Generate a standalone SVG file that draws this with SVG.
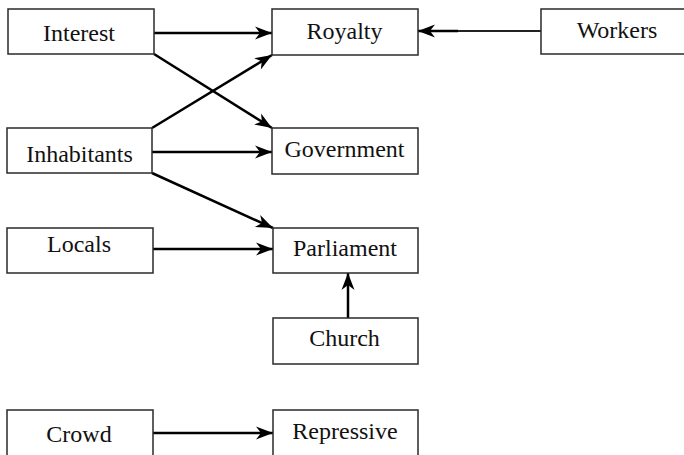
<svg xmlns="http://www.w3.org/2000/svg" width="684" height="455" viewBox="0 0 684 455">
  <style>
    .box { fill: #ffffff; stroke: #2a2a2a; stroke-width: 1.5; }
    .lbl { font-family: "Liberation Serif", "Times New Roman", serif; font-size: 24px; fill: #111111; text-anchor: middle; }
    .edge { fill: none; stroke: #000000; stroke-width: 2.5; marker-end: url(#arrow); }
  </style>
  <defs>
    <marker id="arrow" markerUnits="userSpaceOnUse" markerWidth="20" markerHeight="16" refX="18" refY="8" orient="auto">
      <path d="M18,8 L1,1.5 L6,8 L1,14.5 Z" fill="#000000"/>
    </marker>
  </defs>

  <rect width="684" height="455" fill="#ffffff"/>

  <g id="connectors">
    <line class="edge" x1="154" y1="33" x2="272" y2="33"/>
    <line class="edge" x1="154" y1="54" x2="272" y2="128"/>
    <line class="edge" x1="152" y1="128" x2="272" y2="55"/>
    <line class="edge" x1="152" y1="152" x2="272" y2="152"/>
    <line class="edge" x1="152" y1="173" x2="273" y2="228"/>
    <line class="edge" x1="153" y1="249" x2="273" y2="249"/>
    <line class="edge" x1="348" y1="318" x2="348" y2="273"/>
    <line class="edge" x1="153" y1="433" x2="273" y2="433"/>
    <line x1="541" y1="31" x2="457" y2="31" stroke="#222222" stroke-width="2.2"/>
    <line class="edge" x1="458" y1="31" x2="418" y2="31" stroke-width="2.8"/>
  </g>

  <g id="interest">
    <rect class="box" x="8" y="9" width="146" height="45"/>
    <text class="lbl" x="79" y="41">Interest</text>
  </g>
  <g id="inhabitants">
    <rect class="box" x="7" y="128" width="145" height="45"/>
    <text class="lbl" x="79.5" y="162">Inhabitants</text>
  </g>
  <g id="locals">
    <rect class="box" x="7" y="228" width="146" height="45"/>
    <text class="lbl" x="79" y="252">Locals</text>
  </g>
  <g id="crowd">
    <rect class="box" x="7" y="410" width="146" height="55"/>
    <text class="lbl" x="79" y="442">Crowd</text>
  </g>
  <g id="royalty">
    <rect class="box" x="272" y="9" width="146" height="46"/>
    <text class="lbl" x="344.5" y="39">Royalty</text>
  </g>
  <g id="government">
    <rect class="box" x="272" y="128" width="146" height="46"/>
    <text class="lbl" x="344.5" y="157">Government</text>
  </g>
  <g id="parliament">
    <rect class="box" x="273" y="228" width="145" height="45"/>
    <text class="lbl" x="345" y="256">Parliament</text>
  </g>
  <g id="church">
    <rect class="box" x="273" y="318" width="145" height="46"/>
    <text class="lbl" x="344.5" y="346">Church</text>
  </g>
  <g id="repressive">
    <rect class="box" x="273" y="410" width="145" height="55"/>
    <text class="lbl" x="345" y="439">Repressive</text>
  </g>
  <g id="workers">
    <rect class="box" x="541" y="9" width="160" height="45"/>
    <text class="lbl" x="617" y="38">Workers</text>
  </g>
</svg>
